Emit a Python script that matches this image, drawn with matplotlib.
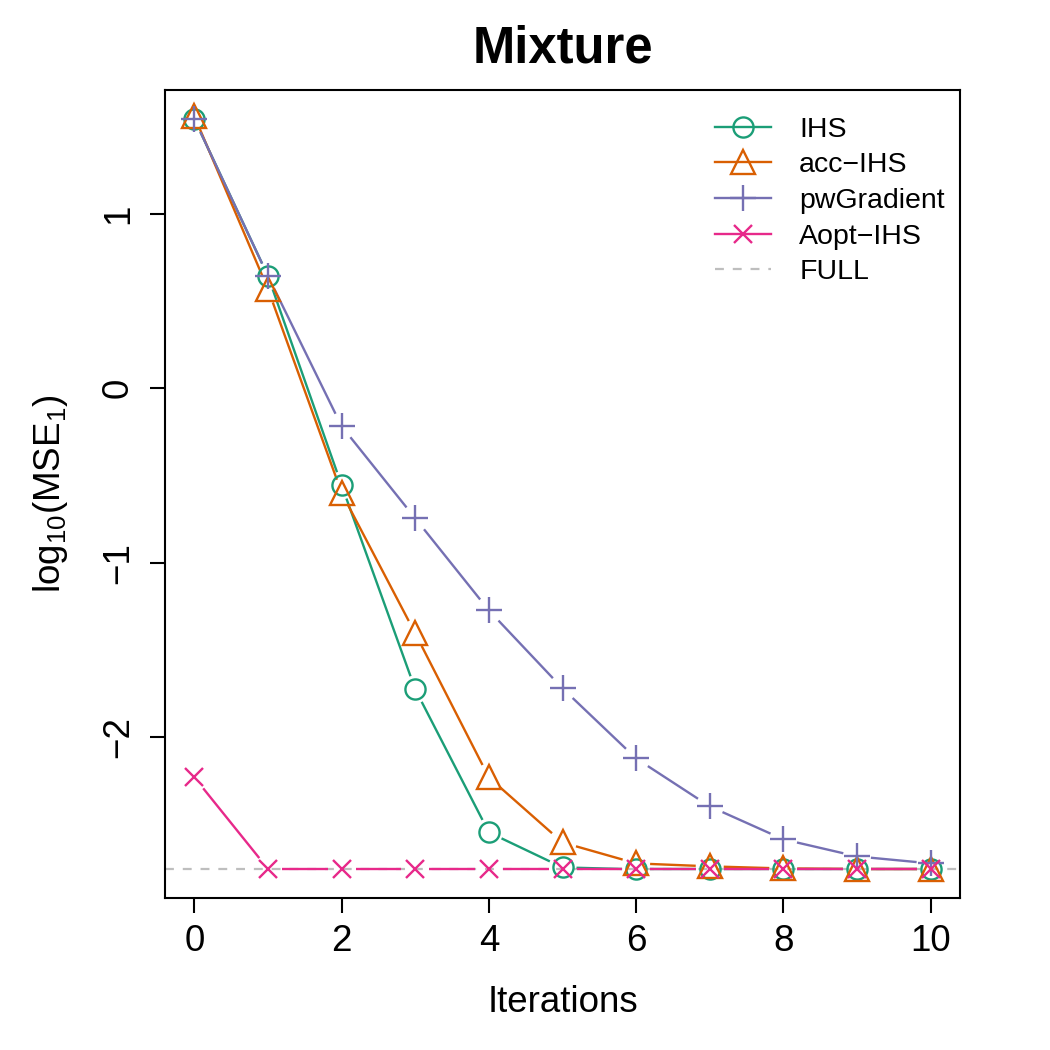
import numpy as np
import matplotlib
matplotlib.use("Agg")
import matplotlib.pyplot as plt
from matplotlib.collections import LineCollection
from matplotlib.lines import Line2D

plt.rcParams['font.family'] = ['Liberation Sans', 'DejaVu Sans']
plt.rcParams['mathtext.default'] = 'regular'

iterations = [0, 1, 2, 3, 4, 5, 6, 7, 8, 9, 10]
ihs = [1.543, 0.643, -0.557, -1.727, -2.547, -2.748, -2.759, -2.759, -2.759, -2.759, -2.759]
acc_ihs = [1.56, 0.568, -0.60, -1.406, -2.232, -2.605, -2.725, -2.742, -2.754, -2.757, -2.757]
pw_gradient = [1.543, 0.643, -0.218, -0.746, -1.274, -1.721, -2.123, -2.398, -2.587, -2.685, -2.725]
aopt_ihs = [-2.232, -2.757, -2.757, -2.757, -2.757, -2.757, -2.757, -2.757, -2.757, -2.757, -2.757]
full_level = -2.757

series = [
    ("IHS", ihs, "#1B9E77", "o", 14.5),
    ("acc\u2212IHS", acc_ihs, "#D95F02", "^", 17),
    ("pwGradient", pw_gradient, "#7570B3", "+", 19),
    ("Aopt\u2212IHS", aopt_ihs, "#E7298A", "x", 13.5),
]

fig = plt.figure(figsize=(10.5, 10.5), dpi=100)
ax = fig.add_axes([165/1050, 1-898/1050, (960-165)/1050, (898-90)/1050])
ax.set_xlim(-0.4, 10.4)
ax.set_ylim(-2.9235, 1.711)

GAP = 14.0  # pixels

def gapped_segments(xs, ys):
    pts = ax.transData.transform(np.column_stack([xs, ys]))
    inv = ax.transData.inverted()
    segs = []
    for i in range(len(pts) - 1):
        p0, p1 = pts[i], pts[i + 1]
        d = p1 - p0
        L = np.hypot(*d)
        if L <= 2 * GAP:
            continue
        u = d / L
        a = p0 + u * GAP
        b = p1 - u * GAP
        segs.append(inv.transform(np.array([a, b])))
    return segs

ax.axhline(full_level, color="#BEBEBE", lw=1.6, dashes=(4, 4), zorder=1)

LW = 1.7
handles = []
for name, vals, col, mk, ms in series:
    lc = LineCollection(gapped_segments(iterations, vals), colors=col, linewidths=LW, zorder=2)
    ax.add_collection(lc)
    ax.plot(iterations, vals, linestyle="none", marker=mk, markersize=ms,
            markerfacecolor="none", markeredgecolor=col, markeredgewidth=LW, zorder=3)
    handles.append(Line2D([], [], color=col, lw=LW, marker=mk, markersize=ms,
                          markerfacecolor="none", markeredgecolor=col, markeredgewidth=LW))
handles.append(Line2D([], [], color="#BEBEBE", lw=1.6, dashes=(4, 4)))
labels = [s[0] for s in series] + ["FULL"]

leg = ax.legend(handles, labels, loc="upper left", bbox_to_anchor=(0.692, 0.967),
                frameon=False, fontsize=20.5, handlelength=1.95, handletextpad=1.0,
                labelspacing=0.34, borderpad=0, borderaxespad=0)

ax.set_xticks([0, 2, 4, 6, 8, 10])
ax.set_yticks([-2, -1, 0, 1])
ax.set_yticklabels(["\u22122", "\u22121", "0", "1"])
ax.tick_params(axis="both", labelsize=26.5, length=10.8, width=1.5, color="black")
ax.tick_params(axis="x", pad=8)
ax.tick_params(axis="y", pad=10)
for lab in ax.get_yticklabels():
    lab.set_rotation(90)
    lab.set_va("center")
for sp in ax.spines.values():
    sp.set_linewidth(1.5)

fig.text(563/1050, 1 - 1003/1050, "Iterations", ha="center", va="center", fontsize=26.5)
fig.text(50/1050, 1 - 494/1050, r"log$_{10}$(MSE$_1$)", ha="center", va="center",
         fontsize=26.5, rotation=90)
fig.text(563/1050, 1 - 49/1050, "Mixture", ha="center", va="center", fontsize=36.5, fontweight="bold")

fig.savefig("out.png", dpi=100)
